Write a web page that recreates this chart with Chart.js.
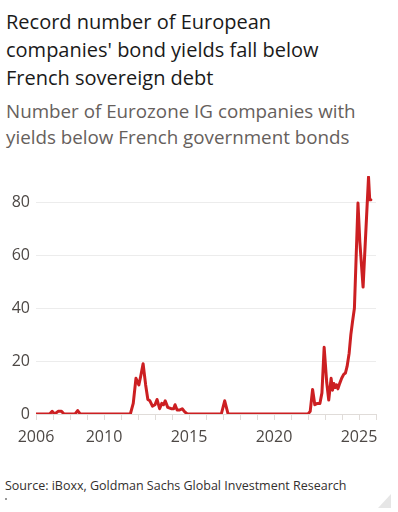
<!DOCTYPE html>
<html>
<head>
<meta charset="utf-8">
<script src="https://cdn.jsdelivr.net/npm/chart.js@4"></script>
<style>
  html, body { margin: 0; padding: 0; background: #fff; }
  body { width: 398px; height: 512px; position: relative; overflow: hidden; font-family: "Open Sans", sans-serif; }
  #title { position: absolute; left: 6px; top: 8px; font-size: 20px; line-height: 28px; color: #1a1a1a; }
  #subtitle { position: absolute; left: 6px; top: 99px; font-size: 18.8px; line-height: 25.5px; color: #66605c; }
  #wrap { position: absolute; left: 0; top: 160px; width: 398px; height: 290px; }
  #source { position: absolute; left: 5px; top: 477px; font-size: 12.5px; color: #33302e; }
  #dot { position: absolute; left: 5px; top: 498px; width: 2px; height: 2px; background: #999; }
  #corner { position: absolute; left: 378px; top: 494px; width: 0; height: 0;
            border-left: 13px solid transparent; border-bottom: 14px solid #e6e6e6; }
</style>
</head>
<body>
<div id="title">Record number of European<br>companies' bond yields fall below<br>French sovereign debt</div>
<div id="subtitle">Number of Eurozone IG companies with<br>yields below French government bonds</div>
<div id="wrap"><canvas id="chart"></canvas></div>
<div id="source">Source: iBoxx, Goldman Sachs Global Investment Research</div>
<div id="dot"></div>
<div id="corner"></div>
<script>
// 日期（小數年份）與數值
const dates = [
  2006.0, 2006.8, 2006.95, 2007.1, 2007.3, 2007.5, 2007.65, 2008.3, 2008.45, 2008.6,
  2011.55, 2011.72, 2011.88, 2012.05, 2012.15, 2012.3, 2012.45, 2012.58, 2012.7, 2012.85,
  2013.0, 2013.12, 2013.27, 2013.4, 2013.5, 2013.6, 2013.75, 2013.95, 2014.1, 2014.18,
  2014.3, 2014.45, 2014.6, 2014.75, 2014.9, 2016.9, 2017.1, 2017.3,
  2022.0, 2022.13, 2022.27, 2022.4, 2022.55, 2022.7, 2022.82, 2022.95, 2023.1, 2023.22,
  2023.36, 2023.44, 2023.52, 2023.6, 2023.68, 2023.76, 2023.86, 2023.98, 2024.1, 2024.2,
  2024.3, 2024.42, 2024.52, 2024.62, 2024.73, 2024.94, 2025.05, 2025.24, 2025.56, 2025.63, 2025.7
];
const counts = [
  0, 0, 1, 0, 1, 1, 0, 0, 1.3, 0,
  0, 4, 13.5, 11, 14, 19, 11, 5.5, 5, 3,
  3.5, 5.5, 2, 4, 3.5, 5, 2.5, 2, 2, 3.5,
  1.5, 1.5, 2, 0.8, 0, 0, 5, 0,
  0, 1, 9.3, 3.5, 4, 4, 8, 25.2, 12, 5.3,
  13.5, 9, 11.5, 10, 11, 9.5, 11.5, 13.5, 15, 15.5,
  18, 23, 30, 35, 40, 79.8, 65, 48, 89.6, 81, 81
];
const yTicks = [0, 20, 40, 60, 80];
const xLabels = [2006, 2010, 2015, 2020, 2025];

const points = dates.map((d, i) => ({ x: d, y: counts[i] }));

const ctx = document.getElementById('chart').getContext('2d');
new Chart(ctx, {
  type: 'line',
  data: {
    datasets: [{
      data: points,
      borderColor: '#cc1f22',
      borderWidth: 3,
      borderJoinStyle: 'round',
      borderCapStyle: 'round',
      pointRadius: 0,
      tension: 0,
      fill: false
    }]
  },
  options: {
    responsive: true,
    maintainAspectRatio: false,
    animation: false,
    layout: { padding: { top: 16, right: 22, left: 0, bottom: 0 } },
    plugins: { legend: { display: false }, tooltip: { enabled: false } },
    scales: {
      x: {
        type: 'linear',
        min: 2006,
        max: 2026,
        afterFit: (s) => { s.height = 36; },
        afterBuildTicks: (s) => {
          const t = [];
          for (let y = 2006; y <= 2026; y++) t.push({ value: y });
          s.ticks = t;
        },
        ticks: {
          autoSkip: false,
          maxRotation: 0,
          padding: 8,
          color: '#4d4845',
          font: { family: 'Open Sans', size: 16 },
          callback: (v) => xLabels.includes(v) ? String(v) : ''
        },
        grid: { drawOnChartArea: false, drawTicks: true, tickLength: 6, color: '#e0dcd9' },
        border: { display: true, color: '#e0dcd9' }
      },
      y: {
        min: 0,
        max: 90,
        afterFit: (s) => { s.width = 36; },
        afterBuildTicks: (s) => { s.ticks = yTicks.map(v => ({ value: v })); },
        ticks: {
          padding: 6,
          color: '#4d4845',
          font: { family: 'Open Sans', size: 16 }
        },
        grid: { drawTicks: false, color: '#ececec' },
        border: { display: false }
      }
    }
  }
});
</script>
</body>
</html>
